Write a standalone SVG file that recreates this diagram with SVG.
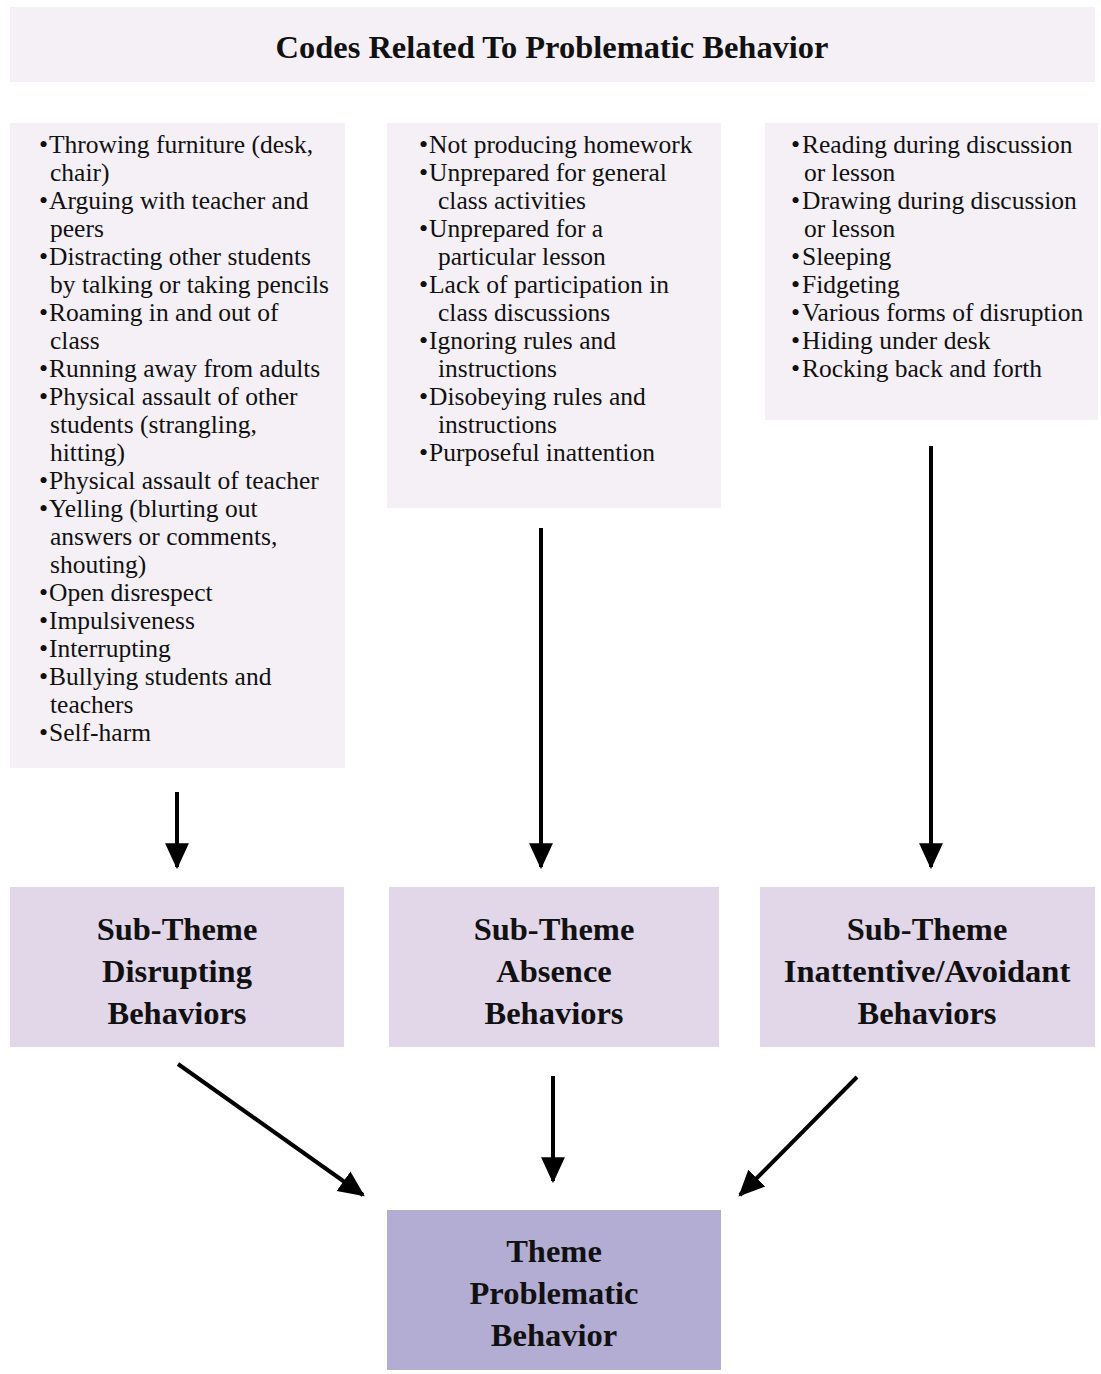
<svg xmlns="http://www.w3.org/2000/svg" width="1101" height="1374" viewBox="0 0 1101 1374">
<defs>
<style>
.codes{fill:#f5f0f6}
.sub{fill:#e2d7e9}
.theme{fill:#b3add4}
.t{font-family:"Liberation Serif","Times New Roman",serif;font-size:25.5px;fill:#111}
.bu{font-size:26px}
.b{font-family:"Liberation Serif","Times New Roman",serif;font-weight:bold;font-size:32.5px;fill:#111;text-anchor:middle}
.title{font-family:"Liberation Serif","Times New Roman",serif;font-weight:bold;font-size:31px;fill:#111;text-anchor:middle}
.conn{stroke:#000;stroke-width:4;fill:none;marker-end:url(#ah)}
</style>
<marker id="ah" markerUnits="userSpaceOnUse" markerWidth="26" markerHeight="26" viewBox="0 0 24 24" refX="22" refY="12" orient="auto">
<path d="M0,1 L24,12 L0,23 Z" fill="#000"/>
</marker>
</defs>
<rect width="1101" height="1374" fill="#fff"/>

<g id="title">
<rect class="codes" x="10" y="7" width="1085" height="75"/>
<text class="title" x="552" y="58" textLength="553" lengthAdjust="spacingAndGlyphs">Codes Related To Problematic Behavior</text>
</g>

<g id="codes-disrupting">
<rect class="codes" x="10" y="123" width="335" height="645"/>
<text class="t">
<tspan class="bu" x="39" y="153">•</tspan><tspan x="49">Throwing furniture (desk,</tspan>
<tspan x="50" y="181">chair)</tspan>
<tspan class="bu" x="39" y="209">•</tspan><tspan x="49">Arguing with teacher and</tspan>
<tspan x="50" y="237">peers</tspan>
<tspan class="bu" x="39" y="265">•</tspan><tspan x="49">Distracting other students</tspan>
<tspan x="50" y="293">by talking or taking pencils</tspan>
<tspan class="bu" x="39" y="321">•</tspan><tspan x="49">Roaming in and out of</tspan>
<tspan x="50" y="349">class</tspan>
<tspan class="bu" x="39" y="377">•</tspan><tspan x="49">Running away from adults</tspan>
<tspan class="bu" x="39" y="405">•</tspan><tspan x="49">Physical assault of other</tspan>
<tspan x="50" y="433">students (strangling,</tspan>
<tspan x="50" y="461">hitting)</tspan>
<tspan class="bu" x="39" y="489">•</tspan><tspan x="49">Physical assault of teacher</tspan>
<tspan class="bu" x="39" y="517">•</tspan><tspan x="49">Yelling (blurting out</tspan>
<tspan x="50" y="545">answers or comments,</tspan>
<tspan x="50" y="573">shouting)</tspan>
<tspan class="bu" x="39" y="601">•</tspan><tspan x="49">Open disrespect</tspan>
<tspan class="bu" x="39" y="629">•</tspan><tspan x="49">Impulsiveness</tspan>
<tspan class="bu" x="39" y="657">•</tspan><tspan x="49">Interrupting</tspan>
<tspan class="bu" x="39" y="685">•</tspan><tspan x="49">Bullying students and</tspan>
<tspan x="50" y="713">teachers</tspan>
<tspan class="bu" x="39" y="741">•</tspan><tspan x="49">Self-harm</tspan>
</text>
</g>

<g id="codes-absence">
<rect class="codes" x="387" y="123" width="334" height="385"/>
<text class="t">
<tspan class="bu" x="419" y="153">•</tspan><tspan x="429">Not producing homework</tspan>
<tspan class="bu" x="419" y="181">•</tspan><tspan x="429">Unprepared for general</tspan>
<tspan x="438" y="209">class activities</tspan>
<tspan class="bu" x="419" y="237">•</tspan><tspan x="429">Unprepared for a</tspan>
<tspan x="438" y="265">particular lesson</tspan>
<tspan class="bu" x="419" y="293">•</tspan><tspan x="429">Lack of participation in</tspan>
<tspan x="438" y="321">class discussions</tspan>
<tspan class="bu" x="419" y="349">•</tspan><tspan x="429">Ignoring rules and</tspan>
<tspan x="438" y="377">instructions</tspan>
<tspan class="bu" x="419" y="405">•</tspan><tspan x="429">Disobeying rules and</tspan>
<tspan x="438" y="433">instructions</tspan>
<tspan class="bu" x="419" y="461">•</tspan><tspan x="429">Purposeful inattention</tspan>
</text>
</g>

<g id="codes-inattentive">
<rect class="codes" x="765" y="123" width="333" height="297"/>
<text class="t">
<tspan class="bu" x="791" y="153">•</tspan><tspan x="802">Reading during discussion</tspan>
<tspan x="804" y="181">or lesson</tspan>
<tspan class="bu" x="791" y="209">•</tspan><tspan x="802">Drawing during discussion</tspan>
<tspan x="804" y="237">or lesson</tspan>
<tspan class="bu" x="791" y="265">•</tspan><tspan x="802">Sleeping</tspan>
<tspan class="bu" x="791" y="293">•</tspan><tspan x="802">Fidgeting</tspan>
<tspan class="bu" x="791" y="321">•</tspan><tspan x="802">Various forms of disruption</tspan>
<tspan class="bu" x="791" y="349">•</tspan><tspan x="802">Hiding under desk</tspan>
<tspan class="bu" x="791" y="377">•</tspan><tspan x="802">Rocking back and forth</tspan>
</text>
</g>

<g id="sub-disrupting">
<rect class="sub" x="10" y="887" width="334" height="160"/>
<text class="b"><tspan x="177" y="940">Sub-Theme</tspan><tspan x="177" y="982">Disrupting</tspan><tspan x="177" y="1024">Behaviors</tspan></text>
</g>

<g id="sub-absence">
<rect class="sub" x="389" y="887" width="330" height="160"/>
<text class="b"><tspan x="554" y="940">Sub-Theme</tspan><tspan x="554" y="982">Absence</tspan><tspan x="554" y="1024">Behaviors</tspan></text>
</g>

<g id="sub-inattentive">
<rect class="sub" x="760" y="887" width="335" height="160"/>
<text class="b"><tspan x="927" y="940">Sub-Theme</tspan><tspan x="927" y="982">Inattentive/Avoidant</tspan><tspan x="927" y="1024">Behaviors</tspan></text>
</g>

<g id="theme">
<rect class="theme" x="387" y="1210" width="334" height="160"/>
<text class="b"><tspan x="554" y="1262">Theme</tspan><tspan x="554" y="1304">Problematic</tspan><tspan x="554" y="1346">Behavior</tspan></text>
</g>

<g id="connectors">
<line class="conn" x1="177" y1="792" x2="177" y2="867"/>
<line class="conn" x1="541" y1="528" x2="541" y2="867"/>
<line class="conn" x1="931" y1="446" x2="931" y2="867"/>
<line class="conn" x1="178" y1="1064" x2="363" y2="1195"/>
<line class="conn" x1="553" y1="1076" x2="553" y2="1181"/>
<line class="conn" x1="857" y1="1077" x2="740" y2="1195"/>
</g>
</svg>
